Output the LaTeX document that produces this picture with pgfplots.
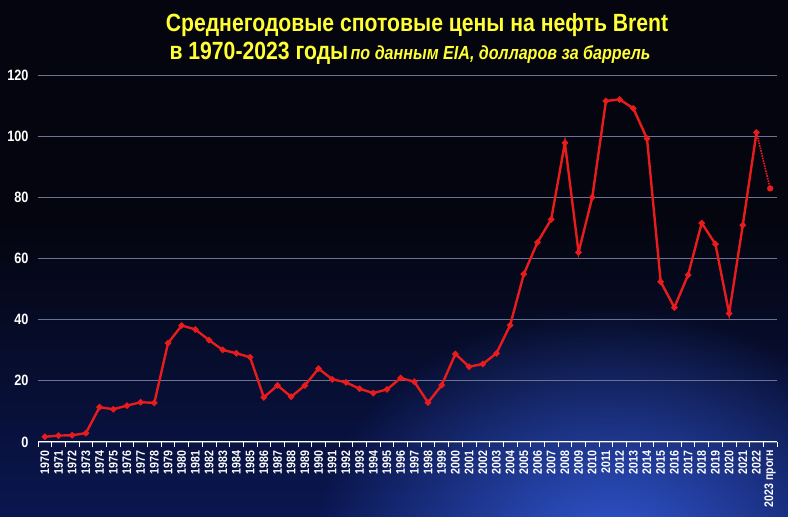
\documentclass[border=0pt]{standalone}
\usepackage{fontspec}
\setmainfont{Liberation Sans}[FakeStretch=0.85]
\usepackage{pgfplots}
\usepackage{pgfplotstable}
\pgfplotsset{compat=1.18}
\usetikzlibrary{fadings}

\definecolor{bgtop}{RGB}{4,5,14}
\definecolor{bgbot}{RGB}{10,22,80}
\definecolor{glow}{RGB}{55,95,225}
\definecolor{oil}{RGB}{232,28,28}
\definecolor{ttl}{RGB}{255,255,51}
\definecolor{grd}{RGB}{105,115,150}

\tikzfading[name=glowfade, inner color=transparent!0, outer color=transparent!100]

% среднегодовые цены Brent, долл./барр.
\pgfplotstableread{
year price
1970 1.7
1971 2.1
1972 2.2
1973 2.9
1974 11.4
1975 10.7
1976 11.9
1977 13.0
1978 12.8
1979 32.3
1980 38.1
1981 36.8
1982 33.3
1983 30.1
1984 29.0
1985 27.7
1986 14.6
1987 18.5
1988 14.8
1989 18.5
1990 24.0
1991 20.5
1992 19.5
1993 17.4
1994 16.0
1995 17.2
1996 20.9
1997 19.7
1998 12.9
1999 18.6
2000 28.8
2001 24.6
2002 25.5
2003 29.0
2004 38.2
2005 54.9
2006 65.3
2007 72.8
2008 97.8
2009 62.0
2010 80.0
2011 111.5
2012 112.0
2013 109.1
2014 99.2
2015 52.4
2016 44.0
2017 54.6
2018 71.6
2019 64.7
2020 42.0
2021 70.9
2022 101.2
}\brent

% прогноз
\pgfplotstableread{
year price
2022 101.2
2023 82.9
}\fcst

\begin{document}
\begin{tikzpicture}[x=1bp,y=1bp]
  % фон
  \fill[bgtop] (0,0) rectangle (788,517);
  \begin{scope}
    \clip (0,0) rectangle (788,517);
    \shade[top color=bgtop, bottom color=bgbot] (0,0) rectangle (788,300);
    \fill[glow, path fading=glowfade, opacity=0.9] (610,-40) ellipse [x radius=300, y radius=250];
  \end{scope}

  \node[ttl, anchor=base, font=\bfseries\fontsize{25}{25}\selectfont] at (417,485)
    {Среднегодовые спотовые цены на нефть Brent};
  \node[ttl, anchor=base] at (410,457)
    {{\bfseries\fontsize{25}{25}\selectfont в 1970-2023 годы} {\bfseries\itshape\fontsize{19}{19}\selectfont по данным EIA, долларов за баррель}};

  \begin{axis}[
      at={(38bp,75bp)}, anchor=south west,
      scale only axis, width=739bp, height=367bp,
      xmin=1969.5, xmax=2023.5,
      ymin=0, ymax=120,
      ytick={0,20,...,120},
      xtick={1970,...,2023},
      xticklabels={1970,1971,1972,1973,1974,1975,1976,1977,1978,1979,
        1980,1981,1982,1983,1984,1985,1986,1987,1988,1989,
        1990,1991,1992,1993,1994,1995,1996,1997,1998,1999,
        2000,2001,2002,2003,2004,2005,2006,2007,2008,2009,
        2010,2011,2012,2013,2014,2015,2016,2017,2018,2019,
        2020,2021,2022,2023 прогн},
      minor xtick={1969.5,1970.5,...,2023.5},
      major tick length=0pt,
      minor tick length=5bp,
      tick align=outside,
      minor x tick style={white, line width=0.8bp},
      axis x line*=bottom,
      axis y line*=left,
      x axis line style={white, line width=1bp, -},
      y axis line style={draw=none},
      ymajorgrids,
      grid style={grd, line width=0.7bp},
      xticklabel shift=5bp,
      x tick label style={rotate=90, anchor=east, white,
        font=\bfseries\fontsize{12.5}{12.5}\selectfont},
      y tick label style={white, font=\bfseries\fontsize{15}{15}\selectfont, xshift=-6bp},
      /pgf/number format/assume math mode=true,
      clip=false,
    ]
    \addplot[oil, line width=2.4bp, mark=*, mark size=1.8bp, mark options={solid}]
      table[x=year, y=price] {\brent};
    \addplot[oil, line width=1.6bp, densely dotted, mark=*, mark size=2.3bp,
      mark options={solid}, mark indices={2}]
      table[x=year, y=price] {\fcst};
  \end{axis}
\end{tikzpicture}
\end{document}
